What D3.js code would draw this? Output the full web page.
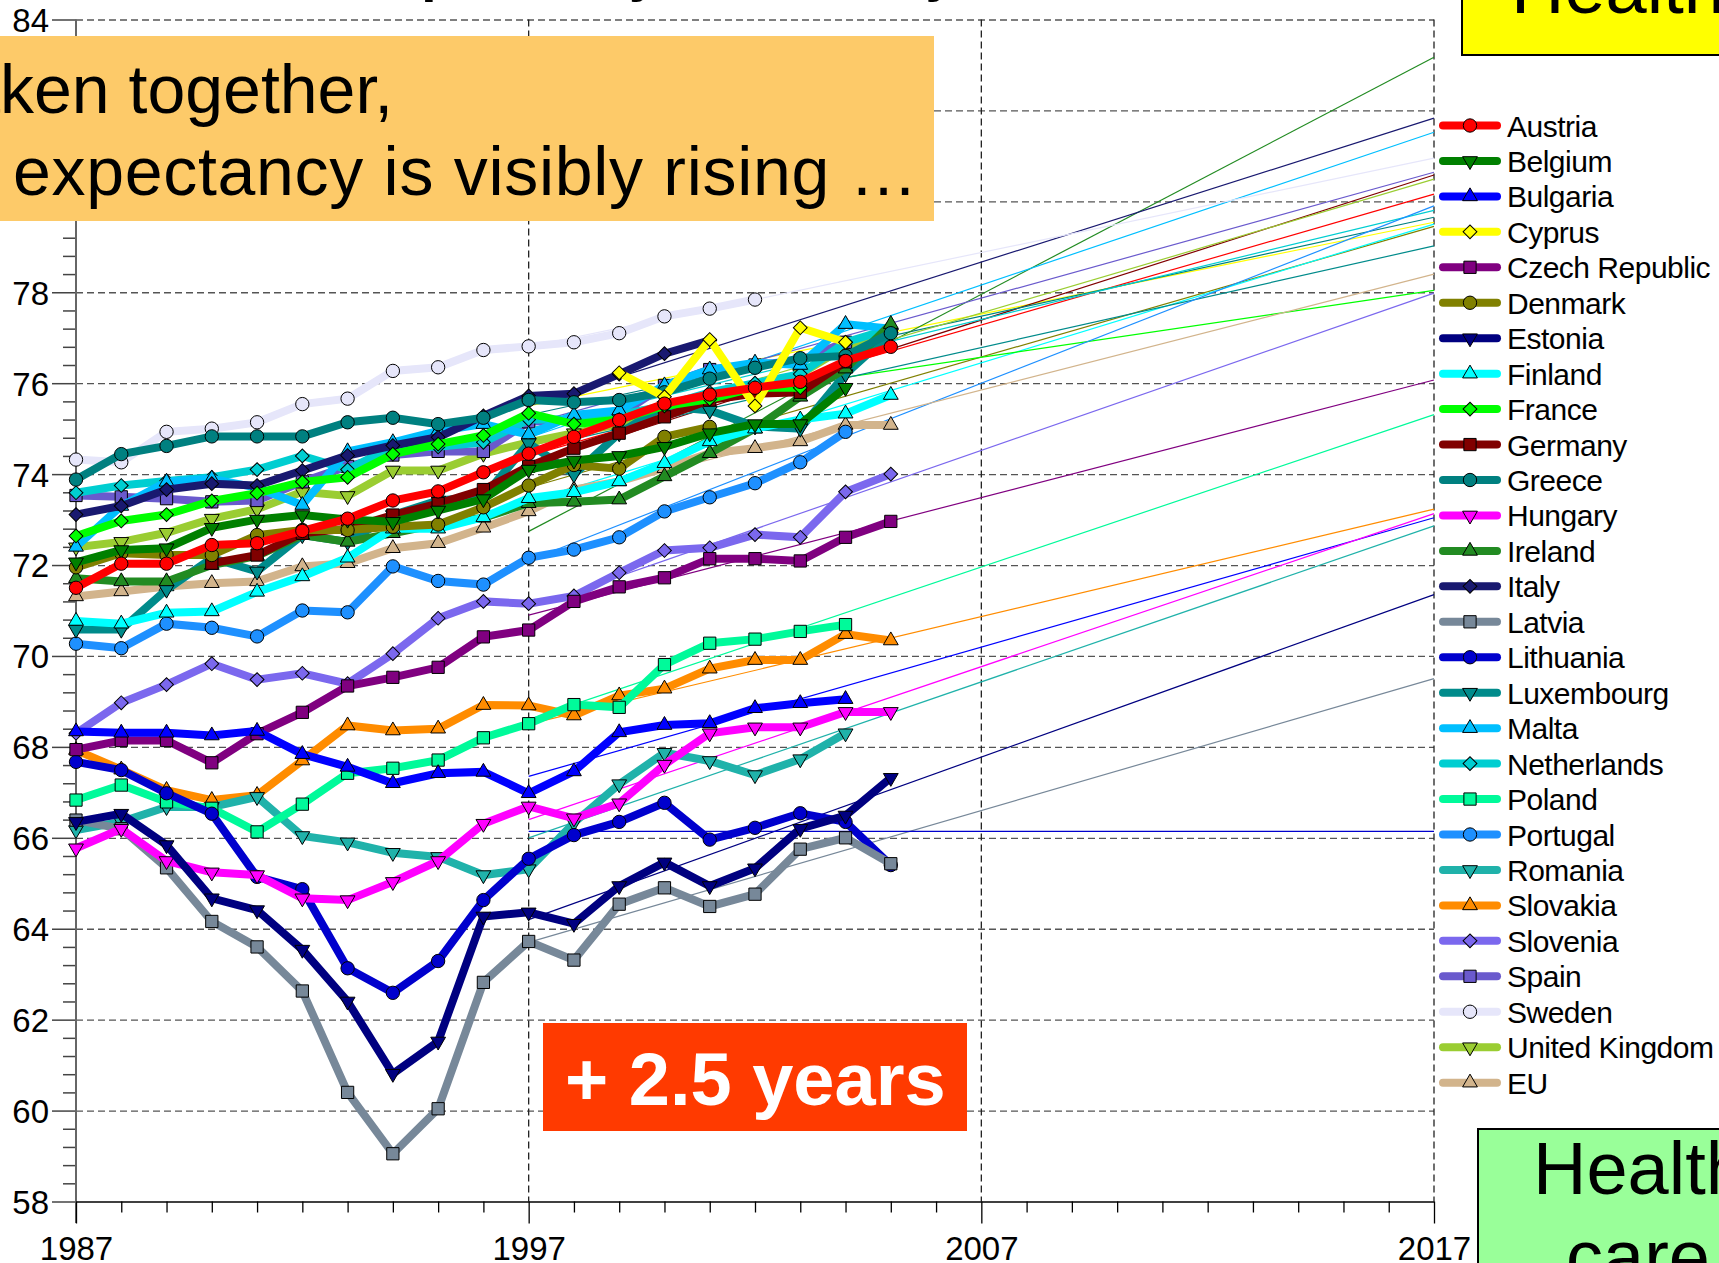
<!DOCTYPE html>
<html>
<head>
<meta charset="utf-8">
<script src="https://cdn.jsdelivr.net/npm/d3@7"></script>
<style>
  body { margin: 0; background: #fff; }
  svg { display: block; font-family: "Liberation Sans", Arial, Helvetica, sans-serif; }
</style>
</head>
<body>
<svg id="chart" width="1719" height="1263"></svg>
<script>
// ---- data (male life expectancy at birth) ----
const years = [1987, 1988, 1989, 1990, 1991, 1992, 1993, 1994, 1995, 1996,
               1997, 1998, 1999, 2000, 2001, 2002, 2003, 2004, 2005];

const countries = ['Austria', 'Belgium', 'Bulgaria', 'Cyprus', 'Czech Republic', 'Denmark',
  'Estonia', 'Finland', 'France', 'Germany', 'Greece', 'Hungary', 'Ireland', 'Italy',
  'Latvia', 'Lithuania', 'Luxembourg', 'Malta', 'Netherlands', 'Poland', 'Portugal',
  'Romania', 'Slovakia', 'Slovenia', 'Spain', 'Sweden', 'United Kingdom', 'EU'];

const colors = ['#ff0000', '#008000', '#0000ff', '#ffff00', '#800080', '#808000',
  '#000080', '#00ffff', '#00ff00', '#800000', '#008080', '#ff00ff', '#228b22', '#191970',
  '#778899', '#0000cd', '#008b8b', '#00bfff', '#00ced1', '#00fa9a', '#1e90ff',
  '#20b2aa', '#ff8c00', '#7b68ee', '#6a5acd', '#e6e6fa', '#9acd32', '#d2b48c'];

const shapes = ['circle', 'down', 'up', 'diamond', 'square', 'circle', 'down', 'up', 'diamond',
  'square', 'circle', 'down', 'up', 'diamond', 'square', 'circle', 'down', 'up', 'diamond',
  'square', 'circle', 'down', 'up', 'diamond', 'square', 'circle', 'down', 'up'];

const _ = null;
const austria     = [71.5, 72.03, 72.03, 72.44, 72.48, 72.75, 73.02, 73.42, 73.62, 74.04, 74.45, 74.82, 75.19, 75.55, 75.75, 75.9, 76.03, 76.49, 76.8];
const belgium     = [72.06, 72.33, 72.37, 72.82, 73.0, 73.1, 73.0, 72.95, 73.2, 73.45, 74.1, 74.3, 74.4, 74.6, 74.9, 75.1, 75.1, 75.9, _];
const bulgaria    = [68.34, 68.31, 68.31, 68.25, 68.35, 67.84, 67.56, 67.2, 67.42, 67.45, 66.98, 67.46, 68.32, 68.48, 68.52, 68.85, 68.96, 69.05, _];
const cyprus      = [_, _, _, _, _, _, _, _, _, _, _, _, 76.23, 75.7, 76.96, 75.5, 77.22, 76.9, _];
const czech       = [67.94, 68.14, 68.14, 67.65, 68.29, 68.76, 69.34, 69.53, 69.75, 70.42, 70.57, 71.2, 71.52, 71.72, 72.14, 72.14, 72.09, 72.61, 72.96];
const denmark     = [71.95, 72.26, 72.22, 72.22, 72.66, 72.77, 72.77, 72.84, 72.89, 73.27, 73.75, 74.2, 74.12, 74.82, 75.04, _, _, _, _];
const estonia     = [66.35, 66.53, 65.84, 64.67, 64.41, 63.54, 62.4, 60.81, 61.52, 64.27, 64.36, 64.11, 64.94, 65.46, 64.94, 65.33, 66.2, 66.49, 67.32];
const finland     = [70.77, 70.71, 70.95, 70.98, 71.41, 71.75, 72.16, 72.8, 72.8, 73.05, 73.47, 73.6, 73.84, 74.24, 74.72, 75.0, 75.2, 75.33, 75.74];
const france      = [72.64, 72.97, 73.11, 73.41, 73.58, 73.83, 73.93, 74.44, 74.66, 74.85, 75.34, 75.1, 75.2, 75.5, 75.65, 75.9, 75.9, _, _];
const germany     = [_, _, _, 72.04, 72.22, 72.7, 72.8, 73.1, 73.35, 73.66, 74.17, 74.57, 74.9, 75.26, 75.63, 75.77, 75.8, 76.47, _];
const greece      = [73.88, 74.44, 74.62, 74.83, 74.83, 74.83, 75.14, 75.24, 75.1, 75.24, 75.63, 75.58, 75.63, 75.8, 76.1, 76.34, 76.55, 76.6, 77.1];
const hungary     = [65.77, 66.2, 65.49, 65.24, 65.18, 64.67, 64.63, 65.03, 65.49, 66.31, 66.69, 66.43, 66.76, 67.61, 68.3, 68.43, 68.43, 68.77, 68.77];
const ireland     = [71.71, 71.64, 71.64, 72.0, 72.2, 72.66, 72.51, 72.7, 72.9, 73.04, 73.36, 73.39, 73.44, 73.95, 74.46, 75.0, 75.7, 76.32, 77.3];
const italy       = [73.11, 73.3, 73.66, 73.79, 73.75, 74.08, 74.41, 74.63, 74.81, 75.28, 75.72, 75.77, 76.2, 76.65, 76.94, _, _, _, _];
const latvia      = [66.39, 66.2, 65.34, 64.16, 63.6, 62.63, 60.4, 59.05, 60.04, 62.82, 63.72, 63.31, 64.54, 64.9, 64.49, 64.76, 65.75, 66.0, 65.43];
const lithuania   = [67.67, 67.49, 66.98, 66.53, 65.14, 64.87, 63.13, 62.59, 63.29, 64.63, 65.54, 66.06, 66.35, 66.77, 65.96, 66.22, 66.54, 66.35, 65.4];
const luxembourg  = [70.58, 70.58, 71.46, 72.15, 71.86, 72.66, 72.51, 73.1, 73.42, 73.5, 74.68, 73.99, 74.9, 75.5, 75.4, 75.05, 75.0, 76.2, 77.1];
const malta       = [72.4, 73.3, 73.83, 73.9, 73.7, 73.32, 74.5, 74.7, 74.95, 75.1, 74.87, 75.3, 75.4, 75.95, 76.3, 76.45, 76.4, 77.3, 77.2];
const netherlands = [73.59, 73.75, 73.85, 73.93, 74.1, 74.4, 74.1, 74.6, 74.6, 74.7, 75.2, 75.2, 75.3, 75.5, 75.8, 76.0, 76.2, 76.9, 77.2];
const poland      = [66.83, 67.16, 66.79, 66.65, 66.13, 66.74, 67.42, 67.53, 67.71, 68.2, 68.51, 68.93, 68.87, 69.81, 70.28, 70.37, 70.54, 70.69, _];
const portugal    = [70.27, 70.17, 70.71, 70.62, 70.43, 71.0, 70.96, 71.97, 71.65, 71.57, 72.16, 72.34, 72.61, 73.18, 73.49, 73.8, 74.26, 74.93, _];
const romania     = [66.17, 66.35, 66.68, 66.68, 66.9, 66.04, 65.9, 65.67, 65.58, 65.18, 65.31, 66.33, 67.18, 67.87, 67.69, 67.38, 67.73, 68.3, _];
const slovakia    = [67.93, 67.5, 67.05, 66.83, 66.94, 67.7, 68.47, 68.36, 68.4, 68.92, 68.91, 68.69, 69.13, 69.28, 69.72, 69.91, 69.91, 70.48, 70.34];
const slovenia    = [68.3, 68.97, 69.37, 69.83, 69.48, 69.62, 69.39, 70.05, 70.83, 71.2, 71.15, 71.32, 71.83, 72.32, 72.38, 72.67, 72.61, 73.61, 74.0];
const spain       = [73.53, 73.5, 73.46, 73.39, 73.42, 73.83, 74.17, 74.42, 74.5, 74.5, 75.15, 75.2, 75.3, 75.95, 76.3, 76.4, 76.5, 76.9, _];
const sweden      = [74.32, 74.26, 74.93, 75.0, 75.14, 75.54, 75.66, 76.27, 76.35, 76.73, 76.81, 76.9, 77.1, 77.47, 77.64, 77.84, _, _, _];
const uk          = [72.39, 72.51, 72.71, 73.02, 73.23, 73.61, 73.52, 74.08, 74.08, 74.45, 74.7, 74.9, 75.1, 75.4, 75.7, 75.9, 76.2, 76.8, 77.1];
const eu          = [71.31, 71.42, 71.53, 71.6, 71.64, 71.97, 72.04, 72.37, 72.48, 72.82, 73.18, 73.66, 73.84, 74.13, 74.46, 74.57, 74.72, 75.08, 75.08];

const values = [austria, belgium, bulgaria, cyprus, czech, denmark, estonia, finland, france,
  germany, greece, hungary, ireland, italy, latvia, lithuania, luxembourg, malta, netherlands,
  poland, portugal, romania, slovakia, slovenia, spain, sweden, uk, eu];

// thin trend lines, value at 1997 and at 2017 (same order as countries)
const trendYears = [1997, 2017];
const trendFrom = [74.4, _, 67.35, 75.5, 70.9, 73.7, 64.2, 73.4, 75.1, 74.2, 75.3, 66.4, 72.74, 75.5,
  63.7, 66.14, 74.55, 74.8, 75.0, 68.6, 72.1, 66.0, 68.5, 71.06, 75.1, 76.8, 74.6, 73.3];
const trendTo = [80.16, _, 73.04, 79.54, 76.07, 79.45, 71.35, 79.5, 78.04, 80.58, 79.65, 73.13, 83.17, 81.83,
  69.5, 66.14, 79.02, 81.52, 79.8, 75.31, 79.9, 72.86, 73.23, 77.98, 80.64, 80.95, 80.49, 78.4];

const yGridValues = [60, 62, 64, 66, 68, 70, 72, 74, 76, 78, 80, 82, 84];
const xGridYears = [1997, 2007, 2017];
const xLabelYears = [1987, 1997, 2007, 2017];

// ---- chart ----
const svg = d3.select('#chart');
const x = d3.scaleLinear().domain([1987, 2017]).range([76, 1434]);
const y = d3.scaleLinear().domain([58, 84]).range([1201.5, 19.5]);

const series = countries.map((name, i) => ({
  name: name,
  color: colors[i],
  shape: shapes[i],
  points: years.map((yr, j) => ({ year: yr, value: values[i][j] })).filter(p => p.value != null),
  trend: trendFrom[i] == null ? null : [
    { year: trendYears[0], value: trendFrom[i] },
    { year: trendYears[1], value: trendTo[i] }]
}));

// title (only the descenders reach into the page)
svg.append('text')
  .attr('x', 247).attr('y', -10)
  .style('font-size', '55px').style('font-weight', 'bold')
  .style('dominant-baseline', 'alphabetic')
  .text('Life expectancy at birth, by sex, males');

// horizontal dashed grid
const yGrid = d3.axisLeft(y).tickValues(yGridValues)
  .tickSize(-(x(2017) - x(1987))).tickFormat('');
svg.append('g')
  .attr('transform', 'translate(' + x(1987) + ',0)')
  .call(yGrid)
  .call(g => g.select('.domain').remove())
  .selectAll('line')
    .attr('stroke', '#555').attr('stroke-width', 1.3).attr('stroke-dasharray', '7,4');

// vertical dashed grid
svg.append('g').selectAll('line').data(xGridYears).join('line')
  .attr('x1', d => x(d)).attr('x2', d => x(d))
  .attr('y1', y(84)).attr('y2', y(58))
  .attr('stroke', '#222').attr('stroke-width', 1.3).attr('stroke-dasharray', '7,4');

// y axis with minor ticks every 0.4
const yTicks = d3.range(0, 66).map(i => +(58 + i * 0.4).toFixed(1));
const isMajor = v => Math.abs(v / 2 - Math.round(v / 2)) < 1e-6;
const yAxis = d3.axisLeft(y).tickValues(yTicks).tickSize(13).tickSizeOuter(0)
  .tickFormat(d => isMajor(d) ? d : '');
const gy = svg.append('g')
  .attr('transform', 'translate(' + x(1987) + ',0)')
  .call(yAxis);
gy.select('.domain').remove();
gy.selectAll('.tick line').attr('stroke', '#444').attr('stroke-width', 1.5)
  .attr('x2', d => isMajor(d) ? -24 : -13);
gy.selectAll('.tick text').attr('x', -27).attr('fill', '#000')
  .style('font-size', '33px').attr('dy', '0.36em');
svg.append('line')
  .attr('x1', x(1987)).attr('x2', x(1987)).attr('y1', y(84)).attr('y2', 1223)
  .attr('stroke', '#666').attr('stroke-width', 2);

// x axis with a tick every year
const xTicks = d3.range(1987, 2018);
const xAxis = d3.axisBottom(x).tickValues(xTicks).tickSize(11).tickSizeOuter(0)
  .tickFormat(d => xLabelYears.includes(d) ? d : '');
const gx = svg.append('g')
  .attr('transform', 'translate(0,' + y(58) + ')')
  .call(xAxis);
gx.select('.domain').attr('stroke', '#000').attr('stroke-width', 1.5);
gx.selectAll('.tick line').attr('stroke', '#000').attr('stroke-width', 1.3)
  .attr('y2', d => xLabelYears.includes(d) ? 22 : 11);
gx.selectAll('.tick text').attr('y', 58).attr('dy', 0).attr('fill', '#000')
  .style('font-size', '33px');

// marker helper
const symbolType = { circle: d3.symbolCircle, square: d3.symbolSquare, up: d3.symbolTriangle,
  down: d3.symbolTriangle, diamond: d3.symbolSquare };
const symbolSize = { circle: 140, square: 150, up: 95, down: 95, diamond: 95 };
const symbolRot = { circle: 0, square: 0, up: 0, down: 180, diamond: 45 };
const markerPath = s => d3.symbol().type(symbolType[s]).size(symbolSize[s])();

const line = d3.line().x(d => x(d.year)).y(d => y(d.value));

// trend lines (under the data)
svg.append('g').selectAll('path')
  .data(series.filter(s => s.trend))
  .join('path')
    .attr('d', s => line(s.trend))
    .attr('fill', 'none')
    .attr('stroke', s => s.color)
    .attr('stroke-width', 1.2);

// data series, drawn from last to first so Austria ends on top
const gs = svg.append('g').selectAll('g')
  .data(series.slice().reverse())
  .join('g');

gs.append('path')
  .attr('d', s => line(s.points))
  .attr('fill', 'none')
  .attr('stroke', s => s.color)
  .attr('stroke-width', 8)
  .attr('stroke-linejoin', 'miter')
  .attr('stroke-miterlimit', 3);

gs.each(function(s) {
  d3.select(this).selectAll('path.mk')
    .data(s.points)
    .join('path')
      .attr('class', 'mk')
      .attr('d', markerPath(s.shape))
      .attr('transform', d => 'translate(' + x(d.year) + ',' + y(d.value) + ') rotate(' + symbolRot[s.shape] + ')')
      .attr('fill', s.color)
      .attr('stroke', '#000')
      .attr('stroke-width', 1);
});

// legend
const legend = svg.append('g').selectAll('g')
  .data(series)
  .join('g')
    .attr('transform', (d, i) => 'translate(0,' + (125.5 + i * 35.45) + ')');
legend.append('line')
  .attr('x1', 1443).attr('x2', 1497)
  .attr('stroke', d => d.color).attr('stroke-width', 8).attr('stroke-linecap', 'round');
legend.append('path')
  .attr('d', d => markerPath(d.shape))
  .attr('transform', d => 'translate(1470,0) rotate(' + symbolRot[d.shape] + ')')
  .attr('fill', d => d.color).attr('stroke', '#000').attr('stroke-width', 1);
legend.append('text')
  .attr('x', 1507).attr('y', 11)
  .style('font-size', '30px').style('letter-spacing', '-0.5px')
  .text(d => d.name);

// annotation boxes
svg.append('rect').attr('x', 0).attr('y', 36).attr('width', 934).attr('height', 185)
  .attr('fill', '#fdca69');

// a text line whose first part runs off the left edge: shift it so `rest` starts at `left`
function clippedLine(head, rest, left, base, spacing) {
  const t = svg.append('text').attr('y', base)
    .style('font-size', '68px').style('letter-spacing', spacing);
  const h = t.append('tspan').text(head);
  t.append('tspan').text(rest);
  t.attr('x', left - h.node().getComputedTextLength());
}
clippedLine('Ta', 'ken together,', 0, 113, '0px');
clippedLine('life ', 'expectancy is visibly rising …', 13, 195, '0.7px');

svg.append('rect').attr('x', 543).attr('y', 1023).attr('width', 424).attr('height', 108)
  .attr('fill', '#ff3a00');
svg.append('text').attr('x', 565).attr('y', 1105)
  .attr('fill', '#fff').style('font-size', '74px').style('font-weight', 'bold')
  .text('+ 2.5 years');

svg.append('rect').attr('x', 1462).attr('y', -5).attr('width', 270).attr('height', 60)
  .attr('fill', '#ffff00').attr('stroke', '#000').attr('stroke-width', 2);
svg.append('text').attr('x', 1511).attr('y', 13)
  .style('font-size', '74px').text('Health');

svg.append('rect').attr('x', 1478).attr('y', 1129).attr('width', 270).attr('height', 150)
  .attr('fill', '#99ff99').attr('stroke', '#000').attr('stroke-width', 2);
svg.append('text').attr('x', 1533).attr('y', 1194)
  .style('font-size', '74px').text('Health');
svg.append('text').attr('x', 1566).attr('y', 1282)
  .style('font-size', '74px').text('care');
</script>
</body>
</html>
